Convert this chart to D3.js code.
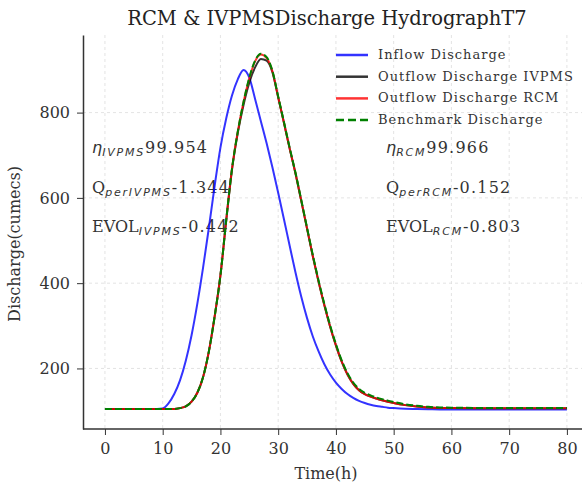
<!DOCTYPE html>
<html>
<head>
<meta charset="utf-8">
<script src="https://cdn.jsdelivr.net/npm/d3@7"></script>
<style>
  body { margin: 0; background: #fff; }
  svg { display: block; font-family: "DejaVu Serif", serif; }
  .grid line { stroke: #dcdcdc; stroke-dasharray: 3,3; stroke-width: 0.8; }
  .axis path, .axis line { stroke: #333; }
  .axis path { stroke-width: 1.5; }
  .axis text { fill: #333; font-family: "DejaVu Serif", serif; font-size: 16px; }
</style>
</head>
<body>
<div id="chart"></div>
<script>
// hours
const time = [0, 2, 4, 6, 8, 9, 10, 11, 12, 13, 14, 15, 16, 17, 18, 19, 20, 21, 22, 23, 24, 25, 26, 27, 28, 29,
  30, 31, 32, 33, 34, 35, 36, 37, 38, 39, 40, 41, 42, 43, 44, 45, 46, 47, 48, 49, 50, 52, 54, 56, 58, 60, 65, 70, 75, 80];

const inflow = [105, 105, 105, 105, 105, 105, 106, 118, 140, 172, 218, 278, 352, 437, 530, 628, 718, 786, 840, 878, 900, 882, 832, 780, 728, 672,
  612, 550, 487, 425, 368, 318, 275, 240, 210, 186, 167, 152, 140, 131, 124, 119, 115, 112, 110, 108, 107, 105.5, 105, 104.5, 104, 104, 104, 104, 104, 104];

const outflowIVPMS = [105, 105, 105, 105, 105, 105, 105, 105, 105, 107, 111, 122, 143, 180, 240, 322, 418, 546, 666, 752, 818, 870, 906, 926, 922, 895,
  836, 776, 715, 657, 593, 528, 463, 403, 348, 298, 254, 216, 186, 164, 149, 140, 134, 129.5, 125.5, 122, 119, 114, 110.5, 108.5, 107.5, 107, 106.5, 106.5, 106.5, 106.5];

const outflowRCM = [105, 105, 105, 105, 105, 105, 105, 105, 105, 107, 111, 122, 143, 180, 240, 322, 418, 548, 668, 755, 825, 880, 920, 936, 928, 897,
  836, 776, 715, 657, 593, 528, 463, 403, 348, 298, 254, 216, 186, 164, 149, 140, 134, 129.5, 125.5, 122, 119, 114, 110.5, 108.5, 107.5, 107, 106.5, 106.5, 106.5, 106.5];

const benchmark = [105, 105, 105, 105, 105, 105, 105, 105, 105, 107, 111, 122, 143, 180, 240, 322, 418, 548, 668, 755, 825, 882, 922, 938, 930, 898,
  838, 778, 717, 659, 595, 530, 466, 406, 351, 301, 257, 219, 189, 167, 152, 143, 137, 132, 128, 124.5, 121.5, 116, 112.5, 110, 108.5, 108, 107.5, 107.5, 107.5, 107.5];

const xTicks = [0, 10, 20, 30, 40, 50, 60, 70, 80];
const yTicks = [200, 400, 600, 800];
const xLim = [-3.8, 84];
const yLim = [58, 982];

const seriesNames = ["Inflow Discharge", "Outflow Discharge IVPMS", "Outflow Discharge RCM", "Benchmark Discharge"];
const seriesColors = ["#0000ff", "#000000", "#ff0000", "#008000"];

const W = 582, H = 488;
const plot = { left: 83, right: 590, top: 35, bottom: 429 };

const svg = d3.select("#chart").append("svg")
  .attr("width", W)
  .attr("height", H);

const x = d3.scaleLinear().domain(xLim).range([plot.left, plot.right]);
const y = d3.scaleLinear().domain(yLim).range([plot.bottom, plot.top]);

// grid
const grid = svg.append("g").attr("class", "grid");
grid.selectAll(".gx").data(xTicks).enter().append("line")
  .attr("x1", d => x(d)).attr("x2", d => x(d))
  .attr("y1", plot.top).attr("y2", plot.bottom);
grid.selectAll(".gy").data(yTicks).enter().append("line")
  .attr("x1", plot.left).attr("x2", plot.right)
  .attr("y1", d => y(d)).attr("y2", d => y(d));

// annotations (under the lines)
const notes = [
  { x: 92, y: 153, greek: true, main: "η", sub: "IVPMS", val: "99.954" },
  { x: 92, y: 193, greek: false, main: "Q", sub: "perIVPMS", val: "-1.344" },
  { x: 92, y: 232, greek: false, main: "EVOL", sub: "IVPMS", val: "-0.442" },
  { x: 386, y: 153, greek: true, main: "η", sub: "RCM", val: "99.966" },
  { x: 386, y: 193, greek: false, main: "Q", sub: "perRCM", val: "-0.152" },
  { x: 386, y: 232, greek: false, main: "EVOL", sub: "RCM", val: "-0.803" }
];
notes.forEach(n => {
  const t = svg.append("text")
    .attr("x", n.x).attr("y", n.y)
    .attr("fill", "#333")
    .style("font-size", "16px");
  t.append("tspan")
    .style("font-family", n.greek ? "DejaVu Sans" : "DejaVu Serif")
    .style("font-style", n.greek ? "italic" : "normal")
    .text(n.main);
  t.append("tspan")
    .attr("dy", 3)
    .style("font-family", "DejaVu Sans")
    .style("font-style", "italic")
    .style("font-size", "11px")
    .style("letter-spacing", "1.8px")
    .text(n.sub);
  t.append("tspan")
    .attr("dy", -3)
    .style("letter-spacing", "1.2px")
    .text(n.val);
});

// lines
const line = d3.line()
  .x((d, i) => x(time[i]))
  .y(d => y(d))
  .curve(d3.curveMonotoneX);

const series = [inflow, outflowIVPMS, outflowRCM, benchmark];
svg.selectAll(".series").data(series).enter().append("path")
  .attr("class", "series")
  .attr("d", d => line(d))
  .attr("fill", "none")
  .attr("stroke", (d, i) => seriesColors[i])
  .attr("stroke-opacity", (d, i) => i === 3 ? 1 : 0.8)
  .attr("stroke-width", 2)
  .attr("stroke-dasharray", (d, i) => i === 3 ? "7,3" : null);

// axes
const xAxis = svg.append("g")
  .attr("class", "axis")
  .attr("transform", `translate(0, ${plot.bottom})`)
  .call(d3.axisBottom(x).tickValues(xTicks).tickSize(6).tickPadding(8).tickSizeOuter(0));
xAxis.select(".domain").attr("d", `M${plot.left},0H${W + 10}`);

const yAxis = svg.append("g")
  .attr("class", "axis")
  .attr("transform", `translate(${plot.left}, 0)`)
  .call(d3.axisLeft(y).tickValues(yTicks).tickSize(6).tickPadding(7).tickSizeOuter(0));

// labels
svg.append("text")
  .attr("x", 327).attr("y", 25)
  .attr("text-anchor", "middle")
  .attr("fill", "#222")
  .style("font-size", "19.5px")
  .text("RCM & IVPMSDischarge HydrographT7");

svg.append("text")
  .attr("x", 326).attr("y", 479)
  .attr("text-anchor", "middle")
  .attr("fill", "#333")
  .style("font-size", "16px")
  .text("Time(h)");

svg.append("text")
  .attr("transform", `translate(20, ${(plot.top + plot.bottom) / 2 + 12}) rotate(-90)`)
  .attr("text-anchor", "middle")
  .attr("fill", "#333")
  .style("font-size", "16px")
  .text("Discharge(cumecs)");

// legend
const legend = svg.append("g").attr("transform", "translate(336, 55)");
const rows = legend.selectAll(".row").data(seriesNames).enter().append("g")
  .attr("transform", (d, i) => `translate(0, ${i * 21.7})`);
rows.append("line")
  .attr("x1", 0).attr("x2", 32)
  .attr("stroke", (d, i) => seriesColors[i])
  .attr("stroke-opacity", (d, i) => i === 3 ? 1 : 0.8)
  .attr("stroke-width", 2.5)
  .attr("stroke-dasharray", (d, i) => i === 3 ? "8,4" : null);
rows.append("text")
  .attr("x", 42).attr("y", 4)
  .attr("fill", "#333")
  .style("font-size", "13px")
  .style("letter-spacing", "1px")
  .text(d => d);
</script>
</body>
</html>
